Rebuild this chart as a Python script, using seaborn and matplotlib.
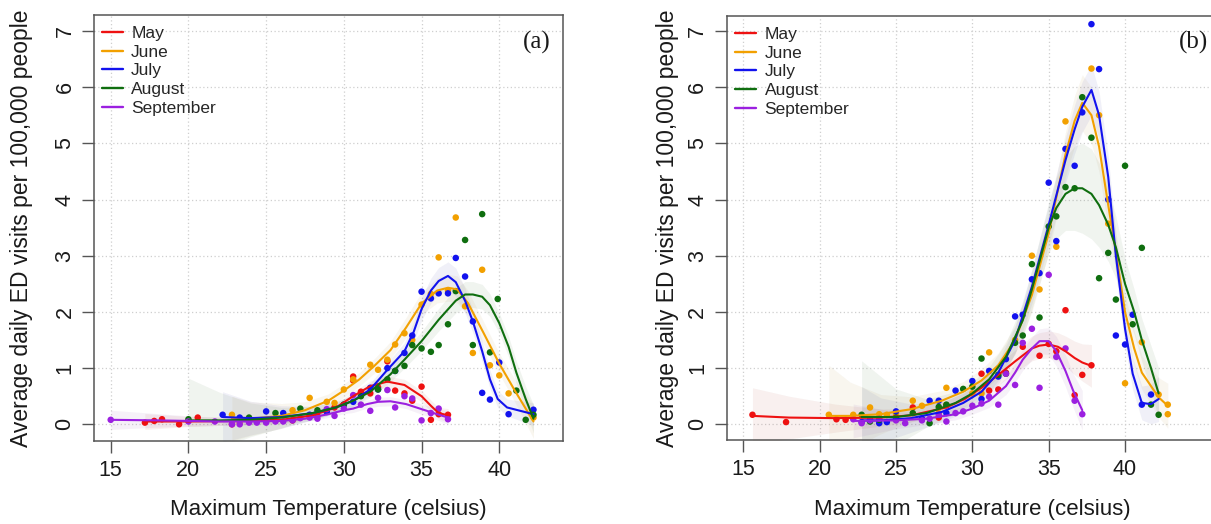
import matplotlib
matplotlib.use("Agg")
import matplotlib.pyplot as plt
from matplotlib.lines import Line2D
import numpy as np
import pandas as pd
import seaborn as sns

sns.set_theme(style="white")
plt.rcParams["font.family"] = ["Liberation Sans", "DejaVu Sans"]

MONTHS = ["May", "June", "July", "August", "September"]
COLORS = ["#EE1111", "#F2A000", "#1212EE", "#0F6E0F", "#9B20E0"]
X_TICKS = [15, 20, 25, 30, 35, 40]
Y_TICKS = [0, 1, 2, 3, 4, 5, 6, 7]
X_LABEL = "Maximum Temperature (celsius)"
Y_LABEL = "Average daily ED visits per 100,000 people"

# ---------------- Panel (a): observed points ----------------
A_MAY_T = [17.2, 17.8, 18.3, 19.4, 20.6, 22.8, 26.7, 28.3, 29.4, 30.6, 30.6, 31.1, 31.7, 32.2, 32.8, 33.3, 33.9, 34.4, 35.0, 35.6, 36.1, 36.7]
A_MAY_V = [0.03, 0.06, 0.09, 0.0, 0.12, 0.0, 0.07, 0.15, 0.3, 0.85, 0.78, 0.58, 0.55, 0.66, 1.12, 0.6, 0.55, 0.42, 0.67, 0.08, 0.18, 0.17]
A_JUN_T = [22.8, 23.3, 25.0, 26.7, 27.8, 28.9, 29.4, 30.0, 30.6, 31.7, 32.2, 32.8, 33.3, 33.9, 34.4, 35.0, 35.6, 36.1, 36.7, 37.2, 37.8, 38.3, 38.9, 39.4, 40.0, 40.6, 42.2]
A_JUN_V = [0.17, 0.03, 0.05, 0.25, 0.47, 0.4, 0.38, 0.62, 0.8, 1.06, 0.97, 1.15, 1.42, 1.62, 1.5, 2.13, 2.32, 2.97, 2.38, 3.68, 2.1, 1.27, 2.75, 1.05, 0.87, 0.55, 0.12]
A_JUL_T = [22.2, 23.3, 25.0, 26.1, 27.8, 28.9, 30.0, 30.6, 31.7, 32.2, 32.8, 33.3, 33.9, 34.4, 35.0, 35.6, 36.1, 36.7, 37.2, 37.8, 38.3, 38.9, 39.4, 40.0, 40.6, 42.2]
A_JUL_V = [0.17, 0.12, 0.23, 0.2, 0.17, 0.22, 0.35, 0.4, 0.65, 0.62, 1.0, 0.95, 1.27, 1.58, 2.36, 2.24, 2.33, 2.33, 2.96, 2.63, 1.83, 0.56, 0.44, 1.1, 0.18, 0.26]
A_AUG_T = [20.0, 23.9, 25.6, 27.2, 28.3, 30.0, 31.1, 32.2, 32.8, 33.3, 33.9, 34.4, 35.0, 35.6, 36.1, 36.7, 37.2, 37.8, 38.3, 38.9, 39.4, 39.9, 41.1, 41.7, 42.2]
A_AUG_V = [0.09, 0.12, 0.2, 0.28, 0.25, 0.35, 0.5, 0.62, 0.8, 0.95, 1.04, 1.41, 1.35, 1.29, 1.41, 1.78, 2.37, 3.28, 1.41, 3.74, 1.28, 2.23, 0.6, 0.08, 0.17]
A_SEP_T = [15.0, 20.0, 21.7, 22.8, 23.3, 23.9, 24.4, 25.0, 25.6, 26.1, 26.7, 27.2, 27.8, 28.3, 28.9, 29.4, 30.0, 30.6, 31.1, 31.7, 32.2, 32.8, 33.3, 33.9, 34.4, 35.0, 35.6, 36.1, 36.7]
A_SEP_V = [0.08, 0.05, 0.05, 0.0, 0.0, 0.03, 0.03, 0.03, 0.05, 0.05, 0.07, 0.11, 0.12, 0.1, 0.27, 0.15, 0.28, 0.52, 0.35, 0.24, 0.47, 0.61, 0.3, 0.5, 0.46, 0.07, 0.2, 0.28, 0.09]

# ---------------- Panel (a): smoothed curves and band half-widths ----------------
A_MAY_CT = [17.2, 20.0, 23.0, 26.0, 28.0, 29.5, 30.6, 31.7, 32.8, 33.9, 35.0, 35.6, 36.1, 36.7]
A_MAY_CV = [0.05, 0.05, 0.06, 0.08, 0.16, 0.3, 0.5, 0.68, 0.76, 0.7, 0.5, 0.33, 0.2, 0.16]
A_MAY_SE = [0.14, 0.09, 0.07, 0.06, 0.06, 0.07, 0.08, 0.09, 0.1, 0.1, 0.1, 0.1, 0.1, 0.12]
A_JUN_CT = [22.8, 24.0, 26.0, 27.5, 29.0, 30.0, 31.0, 32.0, 33.0, 34.0, 35.0, 36.0, 36.7, 37.3, 38.0, 39.0, 40.0, 41.0, 42.2]
A_JUN_CV = [0.1, 0.1, 0.15, 0.25, 0.42, 0.6, 0.8, 1.05, 1.32, 1.72, 2.15, 2.38, 2.43, 2.4, 2.15, 1.62, 1.08, 0.6, 0.05]
A_JUN_SE = [0.4, 0.3, 0.22, 0.15, 0.12, 0.12, 0.12, 0.13, 0.15, 0.18, 0.2, 0.22, 0.24, 0.24, 0.22, 0.2, 0.18, 0.2, 0.3]
A_JUL_CT = [22.2, 24.0, 26.0, 28.0, 29.5, 30.6, 31.7, 32.8, 33.9, 34.5, 35.0, 35.6, 36.1, 36.7, 37.2, 37.8, 38.3, 38.9, 39.4, 39.9, 40.5, 42.2]
A_JUL_CV = [0.13, 0.11, 0.13, 0.2, 0.3, 0.42, 0.62, 0.97, 1.3, 1.65, 2.05, 2.38, 2.55, 2.64, 2.53, 2.2, 1.83, 1.3, 0.8, 0.45, 0.3, 0.18]
A_JUL_SE = [0.45, 0.3, 0.2, 0.12, 0.1, 0.1, 0.11, 0.13, 0.15, 0.18, 0.2, 0.22, 0.24, 0.25, 0.25, 0.22, 0.2, 0.18, 0.16, 0.15, 0.15, 0.2]
A_AUG_CT = [20.0, 22.0, 24.0, 26.0, 28.0, 29.5, 30.6, 31.7, 33.0, 33.9, 35.0, 36.1, 37.2, 37.8, 38.3, 38.9, 39.4, 40.0, 40.6, 41.1, 41.7, 42.2]
A_AUG_CV = [0.07, 0.07, 0.08, 0.12, 0.2, 0.3, 0.42, 0.58, 0.89, 1.15, 1.48, 1.86, 2.2, 2.31, 2.31, 2.27, 2.12, 1.8, 1.38, 0.92, 0.45, 0.1]
A_AUG_SE = [0.75, 0.5, 0.3, 0.18, 0.12, 0.1, 0.1, 0.11, 0.13, 0.15, 0.17, 0.2, 0.22, 0.23, 0.23, 0.22, 0.2, 0.18, 0.18, 0.2, 0.22, 0.25]
A_SEP_CT = [15.0, 18.0, 20.0, 22.0, 24.0, 26.0, 27.5, 29.0, 30.0, 30.6, 31.5, 32.2, 33.0, 34.0, 35.0, 36.0, 36.7]
A_SEP_CV = [0.08, 0.07, 0.06, 0.05, 0.05, 0.06, 0.1, 0.18, 0.25, 0.28, 0.36, 0.4, 0.41, 0.36, 0.27, 0.18, 0.12]
A_SEP_SE = [0.17, 0.12, 0.09, 0.07, 0.06, 0.05, 0.05, 0.06, 0.06, 0.07, 0.07, 0.08, 0.08, 0.08, 0.09, 0.1, 0.12]

# ---------------- Panel (b): observed points ----------------
B_MAY_T = [15.6, 17.8, 21.1, 21.7, 26.1, 27.8, 28.3, 30.6, 31.1, 31.7, 32.2, 33.3, 34.4, 35.0, 35.5, 36.1, 36.7, 37.2, 37.8]
B_MAY_V = [0.17, 0.04, 0.09, 0.08, 0.3, 0.12, 0.34, 0.9, 0.6, 0.62, 0.92, 1.38, 1.22, 1.43, 1.3, 2.03, 0.52, 0.88, 1.05]
B_JUN_T = [20.6, 22.2, 23.3, 23.9, 24.4, 25.0, 26.1, 26.7, 27.8, 28.3, 30.0, 30.6, 31.1, 32.8, 33.9, 34.4, 35.5, 36.1, 37.8, 38.3, 38.9, 40.0, 41.1, 42.2, 42.8, 42.8]
B_JUN_V = [0.17, 0.17, 0.3, 0.18, 0.17, 0.19, 0.42, 0.33, 0.2, 0.65, 0.55, 0.55, 1.28, 1.5, 3.0, 2.4, 3.16, 5.39, 6.33, 5.5, 3.57, 0.73, 1.46, 0.53, 0.35, 0.18]
B_JUL_T = [22.75, 23.3, 23.9, 24.4, 25.0, 26.7, 27.2, 27.8, 28.3, 28.9, 30.0, 30.6, 31.1, 31.7, 32.2, 32.8, 33.3, 33.9, 34.4, 35.0, 35.5, 36.1, 36.7, 37.2, 37.8, 38.3, 38.9, 39.4, 40.0, 40.5, 41.1, 41.7]
B_JUL_V = [0.04, 0.08, 0.02, 0.04, 0.23, 0.1, 0.42, 0.42, 0.2, 0.6, 0.77, 0.45, 0.95, 0.85, 1.16, 1.92, 1.95, 2.58, 2.69, 4.3, 3.26, 4.9, 4.6, 5.55, 7.12, 6.32, 4.0, 1.58, 1.42, 1.95, 0.35, 0.53]
B_AUG_T = [22.75, 23.3, 23.9, 25.0, 26.1, 27.2, 27.8, 28.3, 29.4, 30.0, 30.6, 31.7, 32.2, 32.8, 33.3, 33.9, 34.4, 35.0, 35.5, 36.1, 36.7, 37.2, 37.8, 38.3, 38.9, 39.4, 40.0, 40.5, 41.1, 41.7, 42.2]
B_AUG_V = [0.17, 0.05, 0.08, 0.12, 0.2, 0.02, 0.31, 0.35, 0.63, 0.67, 1.17, 0.88, 0.9, 1.45, 1.58, 2.85, 1.9, 3.52, 3.7, 4.22, 4.2, 5.82, 5.1, 2.6, 3.05, 2.22, 4.6, 1.78, 3.14, 0.35, 0.17]
B_SEP_T = [22.2, 22.75, 23.3, 23.9, 25.0, 25.6, 26.7, 27.2, 27.8, 28.3, 28.9, 29.4, 30.0, 30.6, 31.1, 31.7, 32.2, 32.8, 33.3, 33.9, 34.4, 35.0, 35.5, 36.1, 36.7, 37.2]
B_SEP_V = [0.09, 0.02, 0.07, 0.1, 0.07, 0.02, 0.07, 0.1, 0.17, 0.05, 0.2, 0.23, 0.33, 0.37, 0.49, 0.35, 0.9, 0.7, 1.45, 1.7, 0.65, 2.66, 1.2, 1.35, 0.42, 0.18]

# ---------------- Panel (b): smoothed curves and band half-widths ----------------
B_MAY_CT = [15.6, 18.0, 21.0, 24.0, 26.0, 28.3, 29.5, 30.6, 31.7, 32.8, 33.9, 34.4, 35.0, 35.6, 36.1, 36.7, 37.2, 37.8]
B_MAY_CV = [0.15, 0.12, 0.11, 0.12, 0.16, 0.3, 0.45, 0.65, 0.88, 1.12, 1.35, 1.4, 1.42, 1.38, 1.3, 1.18, 1.1, 1.04]
B_MAY_SE = [0.5, 0.38, 0.25, 0.15, 0.12, 0.12, 0.13, 0.15, 0.18, 0.2, 0.22, 0.23, 0.24, 0.25, 0.27, 0.3, 0.33, 0.38]
B_JUN_CT = [20.6, 22.0, 24.0, 26.0, 28.0, 29.4, 30.6, 31.7, 32.8, 33.9, 35.0, 36.1, 36.7, 37.2, 37.8, 38.3, 38.9, 39.4, 40.0, 40.6, 41.1, 41.7, 42.2, 42.8]
B_JUN_CV = [0.15, 0.15, 0.18, 0.27, 0.42, 0.58, 0.78, 1.05, 1.5, 2.3, 3.4, 4.8, 5.4, 5.72, 5.5, 4.94, 3.9, 3.07, 2.0, 1.35, 0.92, 0.68, 0.48, 0.33]
B_JUN_SE = [0.9, 0.6, 0.35, 0.22, 0.18, 0.18, 0.2, 0.22, 0.25, 0.3, 0.35, 0.4, 0.45, 0.5, 0.5, 0.45, 0.4, 0.35, 0.3, 0.3, 0.3, 0.32, 0.35, 0.4]
B_JUL_CT = [22.75, 24.0, 26.0, 28.0, 29.4, 30.6, 31.7, 32.8, 33.9, 35.0, 36.1, 36.7, 37.2, 37.8, 38.3, 38.9, 39.4, 40.0, 40.5, 41.1, 41.7, 42.2]
B_JUL_CV = [0.07, 0.07, 0.11, 0.22, 0.38, 0.58, 0.92, 1.5, 2.45, 3.55, 4.7, 5.25, 5.65, 5.95, 5.5, 4.4, 3.0, 1.7, 0.9, 0.38, 0.36, 0.45]
B_JUL_SE = [0.6, 0.4, 0.25, 0.18, 0.17, 0.18, 0.2, 0.24, 0.3, 0.35, 0.4, 0.43, 0.45, 0.45, 0.42, 0.38, 0.33, 0.3, 0.28, 0.3, 0.35, 0.4]
B_AUG_CT = [22.75, 25.0, 27.0, 28.9, 30.0, 31.1, 32.2, 33.3, 33.9, 35.0, 35.5, 36.1, 36.7, 37.2, 37.8, 38.3, 38.9, 39.4, 40.0, 40.6, 41.1, 41.7, 42.2]
B_AUG_CV = [0.13, 0.13, 0.2, 0.38, 0.55, 0.8, 1.2, 1.85, 2.4, 3.5, 3.85, 4.1, 4.2, 4.2, 4.1, 3.9, 3.55, 3.15, 2.5, 2.0, 1.5, 1.0, 0.55]
B_AUG_SE = [1.0, 0.5, 0.25, 0.2, 0.2, 0.22, 0.25, 0.3, 0.35, 0.45, 0.55, 0.65, 0.75, 0.8, 0.8, 0.75, 0.65, 0.55, 0.45, 0.4, 0.38, 0.4, 0.45]
B_SEP_CT = [22.2, 25.0, 27.0, 28.9, 30.0, 31.1, 32.2, 32.8, 33.3, 33.9, 34.4, 35.0, 35.5, 36.1, 36.6, 37.2]
B_SEP_CV = [0.06, 0.07, 0.1, 0.18, 0.28, 0.42, 0.68, 0.92, 1.15, 1.35, 1.48, 1.48, 1.3, 0.95, 0.6, 0.25]
B_SEP_SE = [0.3, 0.15, 0.1, 0.1, 0.1, 0.12, 0.15, 0.17, 0.19, 0.2, 0.22, 0.24, 0.26, 0.28, 0.3, 0.35]

PANEL_A = dict(
    pts=[(A_MAY_T, A_MAY_V), (A_JUN_T, A_JUN_V), (A_JUL_T, A_JUL_V), (A_AUG_T, A_AUG_V), (A_SEP_T, A_SEP_V)],
    crv=[(A_MAY_CT, A_MAY_CV, A_MAY_SE), (A_JUN_CT, A_JUN_CV, A_JUN_SE), (A_JUL_CT, A_JUL_CV, A_JUL_SE),
         (A_AUG_CT, A_AUG_CV, A_AUG_SE), (A_SEP_CT, A_SEP_CV, A_SEP_SE)],
)
PANEL_B = dict(
    pts=[(B_MAY_T, B_MAY_V), (B_JUN_T, B_JUN_V), (B_JUL_T, B_JUL_V), (B_AUG_T, B_AUG_V), (B_SEP_T, B_SEP_V)],
    crv=[(B_MAY_CT, B_MAY_CV, B_MAY_SE), (B_JUN_CT, B_JUN_CV, B_JUN_SE), (B_JUL_CT, B_JUL_CV, B_JUL_SE),
         (B_AUG_CT, B_AUG_CV, B_AUG_SE), (B_SEP_CT, B_SEP_CV, B_SEP_SE)],
)

W, H = 1211, 524
fig = plt.figure(figsize=(W / 100, H / 100), dpi=100)
fig.patch.set_facecolor("white")

axA = fig.add_axes([94 / W, 1 - 441 / H, (563 - 94) / W, (441 - 15) / H])
axB = fig.add_axes([726.7 / W, 1 - 440 / H, (1222 - 726.7) / W, (440 - 16) / H])

palette = dict(zip(MONTHS, COLORS))
TEXT_COLOR = "#1a1a1a"


def draw_panel(ax, panel, xlim, ylim, tag, tag_x, leg_anchor):
    ax.set_xlim(*xlim)
    ax.set_ylim(*ylim)
    for x in X_TICKS:
        ax.axvline(x, color="#cfcfcf", lw=0.9, ls=(0, (1, 2)), zorder=0)
    for y in Y_TICKS:
        ax.axhline(y, color="#cfcfcf", lw=0.9, ls=(0, (1, 2)), zorder=0)
    for (ct, cv, se), col in zip(panel["crv"], COLORS):
        ct = np.asarray(ct); cv = np.asarray(cv); se = np.asarray(se)
        ax.fill_between(ct, cv - se, cv + se, color="#a0a090", alpha=0.05, lw=0, zorder=1)
        ax.fill_between(ct, cv - se, cv + se, color=col, alpha=0.04, lw=0, zorder=1)
    rows = []
    for m, (t, v) in zip(MONTHS, panel["pts"]):
        rows += [(m, a, b) for a, b in zip(t, v)]
    pdf = pd.DataFrame(rows, columns=["Month", "T", "V"])
    sns.scatterplot(data=pdf, x="T", y="V", hue="Month", palette=palette, hue_order=MONTHS,
                    s=22, edgecolor="none", linewidth=0, legend=False, ax=ax, zorder=3)
    rows = []
    for m, (ct, cv, se) in zip(MONTHS, panel["crv"]):
        rows += [(m, a, b) for a, b in zip(ct, cv)]
    cdf = pd.DataFrame(rows, columns=["Month", "T", "V"])
    sns.lineplot(data=cdf, x="T", y="V", hue="Month", palette=palette, hue_order=MONTHS,
                 estimator=None, sort=True, lw=1.5, legend=False, ax=ax, zorder=4)
    ax.set_xticks(X_TICKS)
    ax.set_yticks(Y_TICKS)
    ax.set_xlabel("")
    ax.set_ylabel("")
    for sp in ax.spines.values():
        sp.set_color("#555555")
        sp.set_linewidth(1.1)
        sp.set_visible(True)
    ax.tick_params(axis="both", direction="out", length=8.4, width=1.0, color="#555555",
                   labelsize=15.5, labelcolor=TEXT_COLOR, bottom=True, left=True)
    ax.tick_params(axis="x", pad=5)
    ax.tick_params(axis="y", pad=5, labelrotation=90)
    for t in ax.yaxis.get_major_ticks():
        t.label1.set_va("center")
        t.label1.set_ha("right")
    handles = [Line2D([0], [0], color=c, lw=1.7) for c in COLORS]
    ax.legend(handles, MONTHS, loc="upper left", bbox_to_anchor=leg_anchor, frameon=False,
              fontsize=12.5, handlelength=1.2, handletextpad=0.5, labelspacing=0.2,
              borderpad=0, borderaxespad=0)
    ax.text(tag_x, 6.8, tag, family=["Liberation Serif", "DejaVu Serif"], fontsize=18,
            ha="left", va="center", color=TEXT_COLOR)


draw_panel(axA, PANEL_A, (13.925, 44.10), (-0.297, 7.283), "(a)", 41.5, (0.0164, 0.974))
draw_panel(axB, PANEL_B, (13.913, 46.35), (-0.279, 7.265), "(b)", 43.55, (0.0168, 0.974))

for ax, yx in ((axA, 22), (axB, 667)):
    pos = ax.get_position()
    fig.text(yx / W, pos.y0 + pos.height / 2, Y_LABEL, rotation=90, ha="center", va="center",
             fontsize=16.5, color=TEXT_COLOR)
fig.text(((94 + 563) / 2) / W, 1 - 510 / H, X_LABEL, ha="center", va="center", fontsize=16, color=TEXT_COLOR)
fig.text(972 / W, 1 - 510 / H, X_LABEL, ha="center", va="center", fontsize=16, color=TEXT_COLOR)

fig.savefig("out.png", dpi=100, facecolor="white")
